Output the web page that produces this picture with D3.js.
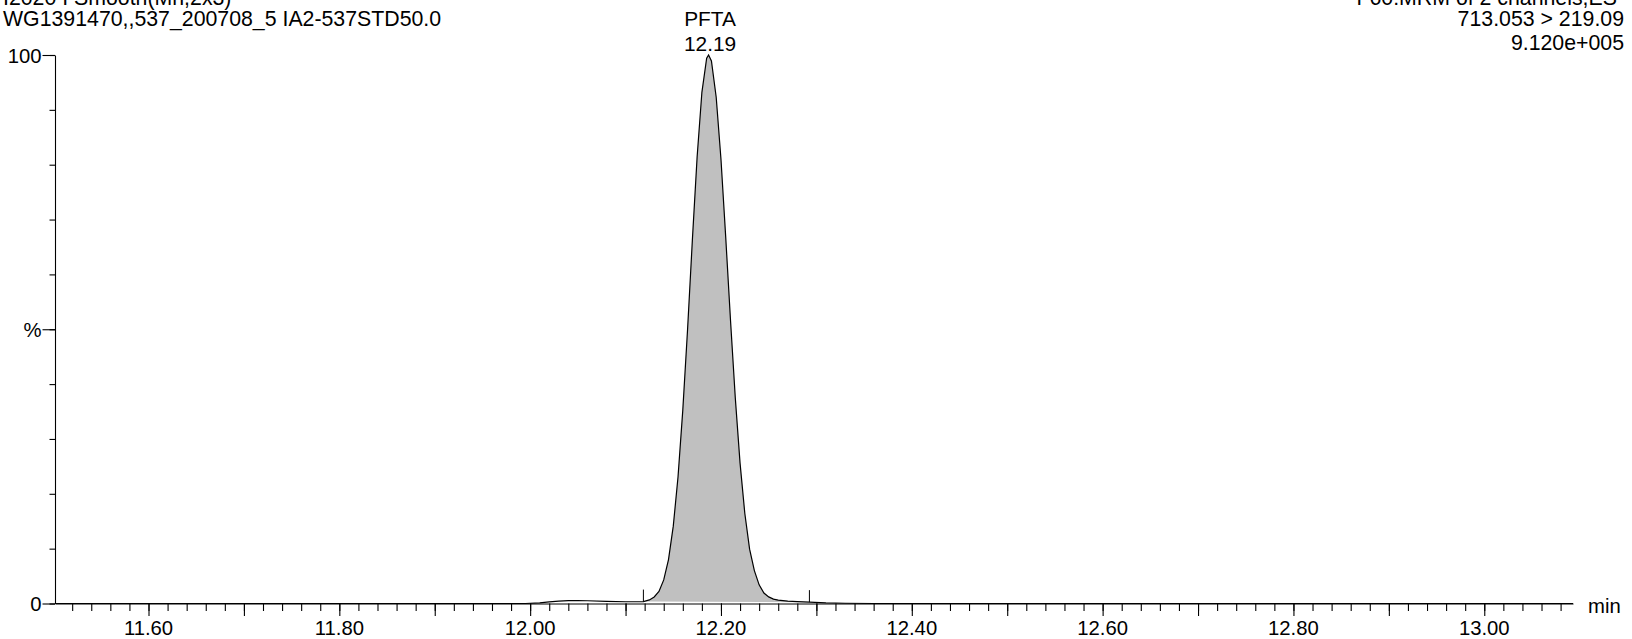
<!DOCTYPE html>
<html>
<head>
<meta charset="utf-8">
<script src="https://cdn.jsdelivr.net/npm/d3@7"></script>
<style>
  html, body { margin: 0; padding: 0; background: #fff; }
  svg { display: block; }
  text { font-family: "Liberation Sans", Arial, Helvetica, sans-serif; fill: #000; }
</style>
</head>
<body>
<svg id="chart" width="1632" height="639"></svg>
<script>
// ---- data ----
const times = [11.502, 11.995, 12.01, 12.02, 12.03, 12.04, 12.05, 12.06, 12.08, 12.10, 12.1187,
  12.125, 12.13, 12.135, 12.14, 12.145, 12.15, 12.155, 12.16, 12.165, 12.17, 12.175, 12.18, 12.185, 12.187,
  12.19, 12.195, 12.20, 12.205, 12.21, 12.215, 12.22, 12.225, 12.23, 12.235, 12.24, 12.245, 12.25,
  12.255, 12.26, 12.27, 12.28, 12.2927, 12.31, 12.33, 12.36, 13.093];
const intensity = [0, 0, 0.12, 0.28, 0.42, 0.52, 0.55, 0.5, 0.4, 0.32, 0.35,
  0.65, 1.2, 2.2, 4.3, 8.0, 14.1, 23.1, 35.3, 50.0, 66.2, 81.4, 93.2, 99.4, 100,
  98.9, 92.3, 81.0, 66.7, 51.6, 37.5, 25.6, 16.4, 9.9, 6.0, 3.4, 1.9, 1.2,
  0.8, 0.6, 0.45, 0.35, 0.25, 0.12, 0.05, 0, 0];
const peakName = "PFTA";
const peakRT = "12.19";
const peakApex = 12.187;
const peakStart = 12.1187;
const peakEnd = 12.2927;
const xLabelValues = [11.6, 11.8, 12.0, 12.2, 12.4, 12.6, 12.8, 13.0];
const xTickLabels = ["11.60", "11.80", "12.00", "12.20", "12.40", "12.60", "12.80", "13.00"];
const yLabelValues = [0, 50, 100];
const yTickLabels = ["0", "%", "100"];
const headerLeft = ["I2020 I Smooth(Mn,2x3)", "WG1391470,,537_200708_5 IA2-537STD50.0"];
const headerRight = ["F60:MRM of 2 channels,ES-", "713.053 > 219.09", "9.120e+005"];
const xUnit = "min";

// ---- scales ----
const svg = d3.select("#chart");
const x = d3.scaleLinear().domain([11.502, 13.093]).range([55, 1573]);
const y = d3.scaleLinear().domain([0, 100]).range([603.5, 55]);

const pts = times.map((t, i) => [t, intensity[i]]);

// ---- fill between trace and integration baseline ----
const startI = intensity[times.indexOf(peakStart)];
const endI = intensity[times.indexOf(peakEnd)];
const inPeak = pts.filter(p => p[0] >= peakStart && p[0] <= peakEnd);
const poly = inPeak.map(p => [x(p[0]), y(p[1])]);
poly.push([x(peakEnd), y(endI)]);
poly.push([x(peakStart), y(startI)]);
svg.append("path")
  .attr("d", "M" + poly.map(p => p.join(",")).join("L") + "Z")
  .attr("fill", "#c0c0c0")
  .attr("stroke", "none");

// ---- axes ----
const gx = svg.append("g").attr("transform", `translate(0,${y(0)})`);
const minorX = d3.range(0, 80).map(i => 11.52 + i * 0.02).filter(v => v <= 13.093);
const majorX = d3.range(0, 16).map(i => 11.6 + i * 0.1).filter(v => v <= 13.093);
gx.append("g").call(d3.axisBottom(x).tickValues(minorX).tickSize(7.5).tickSizeOuter(0).tickFormat(""))
  .call(g => g.selectAll("path,line").attr("stroke", "#000").attr("stroke-width", 1.1));
gx.append("g").call(d3.axisBottom(x).tickValues(majorX).tickSize(12.5).tickSizeOuter(0).tickFormat(""))
  .call(g => g.select("path").remove())
  .call(g => g.selectAll("line").attr("stroke", "#000").attr("stroke-width", 1.1));
gx.selectAll("text.xl").data(xLabelValues).enter().append("text")
  .attr("class", "xl")
  .attr("x", d => x(d)).attr("y", 31.5)
  .attr("text-anchor", "middle").attr("font-size", 20.3)
  .text((d, i) => xTickLabels[i]);
svg.append("text").attr("x", 1588).attr("y", 612.5).attr("font-size", 20.3).text(xUnit);

const gy = svg.append("g").attr("transform", `translate(${x(11.502)},0)`);
gy.append("g").call(d3.axisLeft(y).tickValues(d3.range(0, 101, 10)).tickSize(5.5).tickSizeOuter(0).tickFormat(""))
  .call(g => g.selectAll("path,line").attr("stroke", "#000").attr("stroke-width", 1.1));
gy.append("g").call(d3.axisLeft(y).tickValues(yLabelValues).tickSize(12.5).tickSizeOuter(0).tickFormat(""))
  .call(g => g.select("path").remove())
  .call(g => g.selectAll("line").attr("stroke", "#000").attr("stroke-width", 1.1));
gy.selectAll("text.yl").data(yLabelValues).enter().append("text")
  .attr("class", "yl")
  .attr("x", -13.5).attr("y", d => y(d) + 7.5)
  .attr("text-anchor", "end").attr("font-size", 20.3)
  .text((d, i) => yTickLabels[i]);

// ---- trace ----
svg.append("path")
  .datum(pts)
  .attr("d", d3.line().x(p => x(p[0])).y(p => y(p[1])))
  .attr("fill", "none").attr("stroke", "#000").attr("stroke-width", 1.2);

// ---- integration markers ----
[[peakStart, startI], [peakEnd, endI]].forEach(([t, v]) => {
  svg.append("line")
    .attr("x1", x(t)).attr("x2", x(t))
    .attr("y1", y(v) - 12).attr("y2", y(v))
    .attr("stroke", "#000").attr("stroke-width", 1);
});

// ---- peak label ----
svg.append("text").attr("x", x(peakApex) + 1.5).attr("y", 26).attr("text-anchor", "middle")
  .attr("font-size", 20.9).text(peakName);
svg.append("text").attr("x", x(peakApex) + 1.5).attr("y", 50.7).attr("text-anchor", "middle")
  .attr("font-size", 20.9).text(peakRT);

// ---- header ----
svg.append("text").attr("x", 3).attr("y", 4.5).attr("font-size", 21.3).text(headerLeft[0]);
svg.append("text").attr("x", 3).attr("y", 25.7).attr("font-size", 21.3).text(headerLeft[1]);
svg.append("text").attr("x", 1624).attr("y", 4.5).attr("text-anchor", "end").attr("font-size", 21.3).text(headerRight[0]);
svg.append("text").attr("x", 1624).attr("y", 25.7).attr("text-anchor", "end").attr("font-size", 21.3).text(headerRight[1]);
svg.append("text").attr("x", 1624).attr("y", 50).attr("text-anchor", "end").attr("font-size", 21.3).text(headerRight[2]);
</script>
</body>
</html>
